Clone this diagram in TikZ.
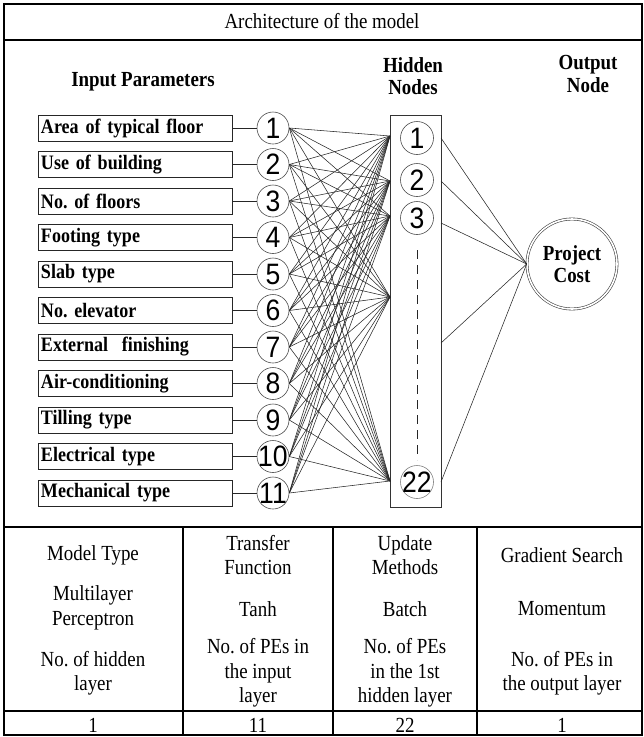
\documentclass[tikz,border=0pt]{standalone}
\usepackage{fontspec}
\setmainfont[FakeStretch=0.88]{Liberation Serif}
\newfontfamily\digitfont[FakeStretch=0.9]{Liberation Sans}
\newcommand{\tabfnt}{\fontsize{21.5}{24.5}\selectfont}
\newcommand{\labfnt}{\fontsize{20.5}{22}\selectfont\bfseries}
\newcommand{\hdfnt}{\fontsize{21.5}{22.5}\selectfont\bfseries}
\newcommand{\digfnt}{\digitfont\fontsize{29.5}{29}\selectfont}
\frenchspacing
\begin{document}
\begin{tikzpicture}[x=1pt,y=-1pt,
  frame/.style={line width=1.6pt, black},
  inbox/.style={draw=black!85, line width=1pt, minimum width=194pt, minimum height=26pt, text width=188pt, inner sep=3pt, align=left, font=\labfnt},
  incirc/.style={circle, draw=black!70, line width=0.6pt, minimum size=32pt, inner sep=0pt, font=\digfnt},
  hidcirc/.style={circle, draw=black!70, line width=0.6pt, minimum size=33pt, inner sep=0pt, font=\digfnt},
  conn/.style={line width=0.55pt, black!85},
  hdr/.style={font=\hdfnt, align=center, inner sep=0pt},
  cell/.style={font=\tabfnt, align=center, inner sep=0pt}
]
\useasboundingbox (0,0) rectangle (644,737);
% frame and table lines
\draw[frame] (4,4) rectangle (642,735);
\draw[line width=1.2pt] (4,40) -- (642,40);
\draw[frame] (4,527) -- (642,527);
\draw[line width=1.2pt] (4,711) -- (642,711);
\draw[line width=1.2pt] (183,527) -- (183,735);
\draw[line width=1.2pt] (333,527) -- (333,735);
\draw[line width=1.2pt] (477,527) -- (477,735);

\node[cell, font=\fontsize{21.5}{24}\selectfont] (title) at (322,21) {Architecture of the model};

% headers
\node[hdr] (hin) at (143,82) {Input Parameters};
\node[hdr] (hhid) at (413,76) {Hidden\\Nodes};
\node[hdr] (hout) at (588,74) {Output\\Node};

% hidden layer box and nodes
\node[draw=black!80, line width=0.8pt, minimum width=51pt, minimum height=392pt, inner sep=0pt] (hb) at (415.5,311) {};
\node[hidcirc] (hn1) at (417,138) {\makebox[0pt]{1}};
\node[hidcirc] (hn2) at (417,180) {\makebox[0pt]{2}};
\node[hidcirc] (hn3) at (417,218) {\makebox[0pt]{3}};
\node[hidcirc, draw=black!50] (hn22) at (417,482) {\makebox[0pt]{22}};
\draw[black!85, line width=0.8pt, dash pattern=on 9pt off 6pt] (hn3.south |- 0,250) coordinate (dA) -- (417,460) coordinate (dB);

% convergence points on hidden box
\coordinate (h1) at (390,136);
\coordinate (h2) at (390,181);
\coordinate (h3) at (390,216);
\coordinate (h4) at (390,297);
\coordinate (h5) at (390,481);
\coordinate (o1) at (441,138);
\coordinate (o2) at (441,181);
\coordinate (o3) at (441,223);
\coordinate (o4) at (441,343);
\coordinate (o5) at (441,482);

% output node
\node[circle, draw=black!75, double=white, double distance=1.6pt, line width=0.6pt, minimum size=90pt, inner sep=0pt, font=\hdfnt, align=center] (pc) at (572,264) {Project\\[-1pt]Cost};
\foreach \j in {1,...,5} \draw[conn] (o\j) -- (pc.west);

% input layer
\foreach \i/\t in {1/Area of typical floor, 2/Use of building, 3/No. of floors, 4/Footing type, 5/Slab type, 6/No. elevator, 7/External\ \ finishing, 8/Air-conditioning, 9/Tilling type, 10/Electrical type, 11/Mechanical type} {
  \pgfmathsetmacro\yy{128+36.5*(\i-1)}
  \node[inbox] (b\i) at (135,\yy) {\t};
  \node[incirc] (c\i) at (273,\yy) {\makebox[0pt]{\i}};
  \draw[conn] (b\i.east) -- (c\i.west);
}
\foreach \i in {1,...,11} {
  \foreach \j in {1,...,5} {
    \draw[conn] (c\i.east) -- (h\j);
  }
}

% table
\node[cell] (t11) at (93,555) {Model Type};
\node[cell] (t12) at (258,555) {Transfer\\Function};
\node[cell] (t13) at (405,555) {Update\\Methods};
\node[cell] (t14) at (562,555) {Gradient Search};
\node[cell] (t21) at (93,608) {Multilayer\\Perceptron};
\node[cell] (t22) at (258,609) {Tanh};
\node[cell] (t23) at (405,609) {Batch};
\node[cell] (t24) at (562,609) {Momentum};
\node[cell] (t31) at (93,673) {No. of hidden\\layer};
\node[cell] (t32) at (258,673) {No. of PEs in\\the input\\layer};
\node[cell] (t33) at (405,673) {No. of PEs\\in the 1st\\hidden layer};
\node[cell] (t34) at (562,673) {No. of PEs in\\the output layer};
\node[cell] (t41) at (93,725) {1};
\node[cell] (t42) at (258,725) {11};
\node[cell] (t43) at (405,725) {22};
\node[cell] (t44) at (562,725) {1};
\end{tikzpicture}
\end{document}
